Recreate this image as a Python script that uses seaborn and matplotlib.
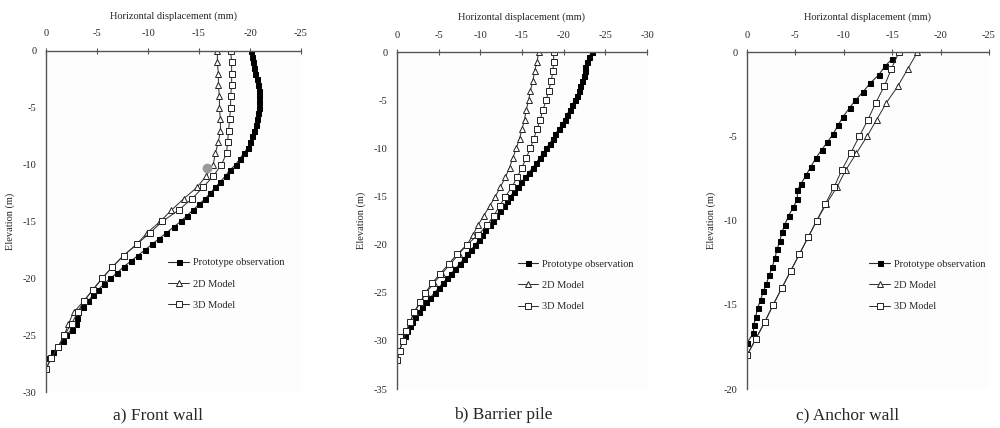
import numpy as np
import pandas as pd
import matplotlib
matplotlib.use('Agg')
import matplotlib.pyplot as plt
import seaborn as sns

# --- data (displacement in mm, elevation in m) ---

# a) Front wall
a_proto_elev = [0, -0.5, -1, -1.5, -2, -2.5, -3, -3.5, -4, -4.5, -5, -5.5, -6, -6.5, -7, -7.5,
                -8, -8.5, -9, -9.5, -10, -10.5, -11, -11.5, -12, -12.5, -13, -13.5, -14, -14.5,
                -15, -15.5, -16, -16.5, -17, -17.5, -18, -18.5, -19, -19.5, -20, -20.5, -21,
                -21.5, -22, -22.5, -23, -23.5, -24, -24.5, -25, -25.5, -26, -26.5, -27]
a_proto_disp = [-20.1, -20.2, -20.3, -20.4, -20.5, -20.7, -20.8, -20.9, -20.9, -20.9, -20.9,
                -20.8, -20.7, -20.6, -20.4, -20.2, -20.0, -19.8, -19.4, -19.0, -18.6, -18.0,
                -17.6, -17.1, -16.6, -16.1, -15.6, -15.0, -14.4, -13.8, -13.2, -12.5, -11.8,
                -11.1, -10.4, -9.7, -9.0, -8.3, -7.6, -7.0, -6.3, -5.7, -5.1, -4.6, -4.1,
                -3.6, -3.1, -3.0, -2.9, -2.5, -2.0, -1.7, -1.2, -0.7, -0.3]
a_model_elev = [0, -1, -2, -3, -4, -5, -6, -7, -8, -9, -10, -11, -12, -13, -14, -15, -16,
                -17, -18, -19, -20, -21, -22, -23, -24, -25, -26, -27, -28]
a_2d_disp = [-16.8, -16.8, -16.9, -16.9, -17.0, -17.0, -17.1, -17.1, -16.9, -16.6, -16.4,
             -15.7, -14.8, -13.5, -12.3, -11.2, -9.9, -8.9, -7.6, -6.5, -5.5, -4.6, -3.7,
             -2.7, -2.2, -1.8, -1.2, -0.5, 0.0]
a_3d_disp = [-18.1, -18.2, -18.2, -18.2, -18.1, -18.1, -18.0, -17.9, -17.8, -17.7, -17.2,
             -16.4, -15.4, -14.3, -13.0, -11.4, -10.2, -8.9, -7.6, -6.5, -5.5, -4.6, -3.7,
             -3.1, -2.5, -1.8, -1.2, -0.5, 0.0]
a_dot_disp = [-15.8]
a_dot_elev = [-10.3]

# b) Barrier pile
b_proto_elev = [0, -0.5, -1, -1.5, -2, -2.5, -3, -3.5, -4, -4.5, -5, -5.5, -6, -6.5, -7, -7.5,
                -8, -8.5, -9, -9.5, -10, -10.5, -11, -11.5, -12, -12.5, -13, -13.5, -14, -14.5,
                -15, -15.5, -16, -16.5, -17, -17.5, -18, -18.5, -19, -19.5, -20, -20.5, -21,
                -21.5, -22, -22.5, -23, -23.5, -24, -24.5, -25, -25.5, -26, -26.5, -27, -27.5,
                -28, -28.5, -29, -29.5]
b_proto_disp = [-23.4, -23.0, -22.8, -22.6, -22.5, -22.4, -22.2, -22.0, -21.8, -21.6, -21.3,
                -21.0, -20.7, -20.4, -20.1, -19.8, -19.4, -19.0, -18.7, -18.3, -17.9, -17.5,
                -17.1, -16.7, -16.3, -15.8, -15.4, -14.9, -14.5, -14.0, -13.6, -13.2, -12.8,
                -12.3, -11.9, -11.5, -11.1, -10.6, -10.2, -9.8, -9.4, -8.9, -8.4, -8.0, -7.5,
                -7.0, -6.5, -6.0, -5.5, -5.0, -4.5, -4.0, -3.5, -3.0, -2.6, -2.2, -1.8, -1.5,
                -1.2, -1.0]
b_model_elev = [0, -1, -2, -3, -4, -5, -6, -7, -8, -9, -10, -11, -12, -13, -14, -15, -16,
                -17, -18, -19, -20, -21, -22, -23, -24, -25, -26, -27, -28, -29, -30, -31, -32]
b_2d_disp = [-17.0, -16.8, -16.5, -16.3, -16.0, -15.8, -15.5, -15.3, -15.0, -14.7, -14.3,
             -13.9, -13.5, -13.0, -12.4, -11.8, -11.1, -10.4, -9.7, -9.1, -8.4, -7.4, -6.4,
             -5.4, -4.4, -3.5, -2.8, -2.1, -1.6, -1.1, -0.7, -0.3, 0.0]
b_3d_disp = [-18.8, -18.8, -18.7, -18.5, -18.2, -17.9, -17.5, -17.2, -16.8, -16.4, -16.0,
             -15.5, -15.0, -14.4, -13.8, -13.0, -12.3, -11.6, -10.8, -9.7, -8.4, -7.2, -6.2,
             -5.2, -4.2, -3.4, -2.8, -2.0, -1.6, -1.1, -0.7, -0.3, 0.0]
b_toe_disp = [0.0, -1.2]
b_toe_elev = [-29.3, -29.3]

# c) Anchor wall
c_proto_elev = [-0.4, -0.8, -1.35, -1.85, -2.35, -2.85, -3.3, -3.85, -4.35, -4.85, -5.35, -5.8,
                -6.3, -6.8, -7.3, -7.8, -8.2, -8.7, -9.2, -9.7, -10.25, -10.7, -11.2, -11.7,
                -12.2, -12.75, -13.25, -13.75, -14.2, -14.7, -15.2, -15.7, -16.2, -16.7, -17.25]
c_proto_disp = [-15.0, -14.3, -13.6, -12.7, -12.0, -11.2, -10.6, -9.9, -9.4, -8.9, -8.3, -7.7,
                -7.1, -6.6, -6.1, -5.6, -5.2, -5.2, -4.8, -4.3, -3.9, -3.6, -3.4, -3.1, -2.9,
                -2.6, -2.3, -2.0, -1.7, -1.4, -1.1, -0.9, -0.7, -0.65, 0.0]
c_model_elev = [0, -1, -2, -3, -4, -5, -6, -7, -8, -9, -10, -11, -12, -13, -14, -15, -16,
                -17, -18]
c_2d_disp = [-17.6, -16.6, -15.6, -14.4, -13.4, -12.4, -11.3, -10.2, -9.3, -8.2, -7.2, -6.3,
             -5.4, -4.5, -3.6, -2.7, -1.85, -0.93, 0.0]
c_3d_disp = [-15.7, -14.9, -14.2, -13.3, -12.5, -11.6, -10.7, -9.8, -9.0, -8.1, -7.2, -6.3,
             -5.4, -4.5, -3.6, -2.7, -1.85, -0.93, 0.0]

captions = ['a) Front wall', 'b) Barrier pile', 'c) Anchor wall']
series_labels = ['Prototype observation', '2D Model', '3D Model']

# --- style ---
sns.set_style('white')
plt.rcParams['font.family'] = ['Liberation Serif', 'DejaVu Serif']
plt.rcParams['axes.unicode_minus'] = False

fig = plt.figure(figsize=(10, 4.28), dpi=100)
fig.patch.set_facecolor('white')

# axes boxes in figure fractions [left, bottom, width, height]
boxes = [[0.046, 0.084, 0.255, 0.797],
         [0.397, 0.091, 0.250, 0.787],
         [0.747, 0.091, 0.242, 0.787]]
xlims = [(0, -25), (0, -30), (0, -25)]
ylims = [(-30, 0), (-35, 0), (-20, 0)]
legend_xy = [(0.48, 0.393), (0.482, 0.385), (0.505, 0.385)]
caption_x = [0.158, 0.503, 0.848]

panels = [
    (a_proto_disp, a_proto_elev, a_2d_disp, a_3d_disp, a_model_elev),
    (b_proto_disp, b_proto_elev, b_2d_disp, b_3d_disp, b_model_elev),
    (c_proto_disp, c_proto_elev, c_2d_disp, c_3d_disp, c_model_elev),
]

line_col = '#2b2b2b'
spine_col = '#555555'

for i, (p_d, p_e, d2, d3, m_e) in enumerate(panels):
    ax = fig.add_axes(boxes[i])
    ax.set_facecolor('#fdfdfd')

    df_p = pd.DataFrame({'disp': p_d, 'elev': p_e})
    df_m = pd.DataFrame({'d2': d2, 'd3': d3, 'elev': m_e})

    sns.lineplot(data=df_p, x='disp', y='elev', sort=False, estimator=None, ax=ax,
                 color=line_col, lw=0.8, marker='s', ms=3.6, mfc='black', mec='black',
                 label=series_labels[0])
    sns.lineplot(data=df_m, x='d2', y='elev', sort=False, estimator=None, ax=ax,
                 color=line_col, lw=0.7, marker='^', ms=4.6, mfc='white', mec='#222222',
                 mew=0.7, label=series_labels[1])
    sns.lineplot(data=df_m, x='d3', y='elev', sort=False, estimator=None, ax=ax,
                 color=line_col, lw=0.7, marker='s', ms=4.3, mfc='white', mec='#222222',
                 mew=0.7, label=series_labels[2])

    if i == 0:
        ax.plot(a_dot_disp, a_dot_elev, 'o', color='#9a9a9a', ms=6, zorder=5)
    if i == 1:
        ax.plot(b_toe_disp, b_toe_elev, color=line_col, lw=0.8)

    ax.set_xlim(*xlims[i])
    ax.set_ylim(*ylims[i])
    ax.set_xticks(np.arange(0, xlims[i][1] - 1, -5))
    ax.set_yticks(np.arange(ylims[i][0], 1, 5))

    ax.xaxis.set_label_position('top')
    ax.xaxis.tick_top()
    ax.set_xlabel('Horizontal displacement (mm)', fontsize=7.5, labelpad=8)
    ax.set_ylabel('Elevation (m)', fontsize=7.5, labelpad=5)
    ax.tick_params(axis='x', direction='inout', length=4, width=0.8, color=spine_col,
                   labelsize=7.5, pad=7)
    ax.tick_params(axis='y', direction='out', length=3, width=0.8, color=spine_col,
                   labelsize=7.5, pad=4)

    for side in ['right', 'bottom']:
        ax.spines[side].set_visible(False)
    for side in ['top', 'left']:
        ax.spines[side].set_color(spine_col)
        ax.spines[side].set_linewidth(1.0)

    ax.legend(loc='upper left', bbox_to_anchor=legend_xy[i], frameon=False, fontsize=7.5,
              handlelength=2.0, handletextpad=0.4, labelspacing=1.15, borderpad=0,
              borderaxespad=0)

    fig.text(caption_x[i], 0.03, captions[i], ha='center', va='center', fontsize=12.5)

fig.savefig('out.png', dpi=100)
